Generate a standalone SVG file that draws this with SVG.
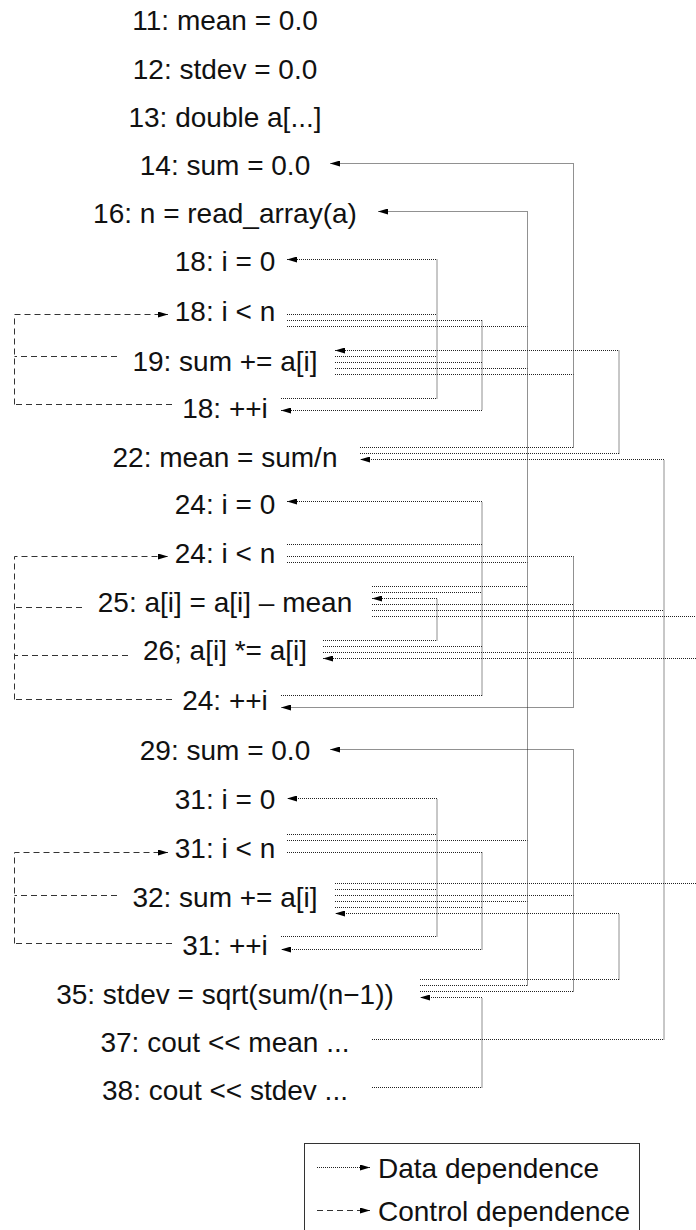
<svg xmlns="http://www.w3.org/2000/svg" width="696" height="1230" viewBox="0 0 696 1230">
  <style>
    .lbl { font-family: "Liberation Sans", Arial, Helvetica, sans-serif; font-size: 28px; fill: #111; text-anchor: middle; }
    .leg { font-family: "Liberation Sans", Arial, Helvetica, sans-serif; font-size: 28px; fill: #111; }
    .data { fill: none; stroke: #222; stroke-width: 1; stroke-dasharray: 1 1; }
    .ctrl { fill: none; stroke: #333; stroke-width: 1; stroke-dasharray: 6 4; }
  </style>
  <defs>
    <marker id="arrow" viewBox="0 0 10 6" refX="10" refY="3" markerWidth="10" markerHeight="6" markerUnits="userSpaceOnUse" orient="auto">
      <path d="M0,0 L10,3 L0,6 z" fill="#000"/>
    </marker>
  </defs>
  <rect width="696" height="1230" fill="#fff"/>

  <!-- statement nodes -->
  <g id="n11"><text class="lbl" x="225" y="30">11: mean = 0.0</text></g>
  <g id="n12"><text class="lbl" x="225" y="79">12: stdev = 0.0</text></g>
  <g id="n13"><text class="lbl" x="225" y="127">13: double a[...]</text></g>
  <g id="n14"><text class="lbl" x="225" y="175">14: sum = 0.0</text></g>
  <g id="n16"><text class="lbl" x="225" y="223">16: n = read_array(a)</text></g>
  <g id="n18a"><text class="lbl" x="225" y="271">18: i = 0</text></g>
  <g id="n18b"><text class="lbl" x="225" y="321">18: i &lt; n</text></g>
  <g id="n19"><text class="lbl" x="225" y="371">19: sum += a[i]</text></g>
  <g id="n18c"><text class="lbl" x="225" y="418">18: ++i</text></g>
  <g id="n22"><text class="lbl" x="225" y="467">22: mean = sum/n</text></g>
  <g id="n24a"><text class="lbl" x="225" y="514">24: i = 0</text></g>
  <g id="n24b"><text class="lbl" x="225" y="563">24: i &lt; n</text></g>
  <g id="n25"><text class="lbl" x="225" y="612">25: a[i] = a[i] – mean</text></g>
  <g id="n26"><text class="lbl" x="225" y="660">26; a[i] *= a[i]</text></g>
  <g id="n24c"><text class="lbl" x="225" y="710">24: ++i</text></g>
  <g id="n29"><text class="lbl" x="225" y="760">29: sum = 0.0</text></g>
  <g id="n31a"><text class="lbl" x="225" y="809">31: i = 0</text></g>
  <g id="n31b"><text class="lbl" x="225" y="858">31: i &lt; n</text></g>
  <g id="n32"><text class="lbl" x="225" y="907">32: sum += a[i]</text></g>
  <g id="n31c"><text class="lbl" x="225" y="955">31: ++i</text></g>
  <g id="n35"><text class="lbl" x="225" y="1004">35: stdev = sqrt(sum/(n−1))</text></g>
  <g id="n37"><text class="lbl" x="225" y="1052">37: cout &lt;&lt; mean ...</text></g>
  <g id="n38"><text class="lbl" x="225" y="1100">38: cout &lt;&lt; stdev ...</text></g>

  <!-- dependence edges: one trunk per target (with arrowhead), stubs from each source port -->
  <g id="connectors">
    <!-- into 14 -->
    <path class="data" d="M573.5,447.5 V163.5 H330" marker-end="url(#arrow)"/>
    <path class="data" d="M335,374.5 H573.5"/>
    <path class="data" d="M360,447.5 H573.5"/>
    <!-- into 16 -->
    <path class="data" d="M527.5,985.5 V211.5 H378" marker-end="url(#arrow)"/>
    <path class="data" d="M287,326.5 H527.5"/>
    <path class="data" d="M335,368.5 H527.5"/>
    <path class="data" d="M287,562.5 H527.5"/>
    <path class="data" d="M372,586.5 H527.5"/>
    <path class="data" d="M287,840.5 H527.5"/>
    <path class="data" d="M335,901.5 H527.5"/>
    <path class="data" d="M420,985.5 H527.5"/>
    <!-- into 18: i = 0 -->
    <path class="data" d="M437,398.5 V259.5 H287" marker-end="url(#arrow)"/>
    <path class="data" d="M287,314.5 H437"/>
    <path class="data" d="M335,356.5 H437"/>
    <path class="data" d="M281,398.5 H437"/>
    <!-- into 18: ++i -->
    <path class="data" d="M482,320.5 V410.5 H281" marker-end="url(#arrow)"/>
    <path class="data" d="M287,320.5 H482"/>
    <path class="data" d="M335,362.5 H482"/>
    <!-- into 19 -->
    <path class="data" d="M619,453.5 V350.5 H335" marker-end="url(#arrow)"/>
    <path class="data" d="M360,453.5 H619"/>
    <!-- into 22 -->
    <path class="data" d="M664,1039.5 V459.5 H360" marker-end="url(#arrow)"/>
    <path class="data" d="M372,610.5 H664"/>
    <path class="data" d="M372,1039.5 H664"/>
    <!-- into 24: i = 0 -->
    <path class="data" d="M482,695.5 V501.5 H287" marker-end="url(#arrow)"/>
    <path class="data" d="M287,544.5 H482"/>
    <path class="data" d="M372,592.5 H482"/>
    <path class="data" d="M323,646.5 H482"/>
    <path class="data" d="M281,695.5 H482"/>
    <!-- into 24: ++i -->
    <path class="data" d="M573.5,556.5 V707.5 H281" marker-end="url(#arrow)"/>
    <path class="data" d="M287,556.5 H573.5"/>
    <path class="data" d="M372,604.5 H573.5"/>
    <path class="data" d="M323,652.5 H573.5"/>
    <!-- into 25 -->
    <path class="data" d="M437,640.5 V598.5 H372" marker-end="url(#arrow)"/>
    <path class="data" d="M323,640.5 H437"/>
    <!-- routed past the right margin -->
    <path class="data" d="M696,658.5 H323" marker-end="url(#arrow)"/>
    <path class="data" d="M372,616.5 H696"/>
    <path class="data" d="M335,883.5 H696"/>
    <!-- into 29 -->
    <path class="data" d="M573.5,991.5 V749.5 H330" marker-end="url(#arrow)"/>
    <path class="data" d="M335,895.5 H573.5"/>
    <path class="data" d="M420,991.5 H573.5"/>
    <!-- into 31: i = 0 -->
    <path class="data" d="M437,936.5 V798.5 H287" marker-end="url(#arrow)"/>
    <path class="data" d="M287,834.5 H437"/>
    <path class="data" d="M335,889.5 H437"/>
    <path class="data" d="M281,936.5 H437"/>
    <!-- into 31: ++i -->
    <path class="data" d="M482,852.5 V949.5 H281" marker-end="url(#arrow)"/>
    <path class="data" d="M287,852.5 H482"/>
    <path class="data" d="M335,907.5 H482"/>
    <!-- into 32 -->
    <path class="data" d="M619,979.5 V913.5 H335" marker-end="url(#arrow)"/>
    <path class="data" d="M420,979.5 H619"/>
    <!-- into 35 -->
    <path class="data" d="M482,1087.5 V997.5 H420" marker-end="url(#arrow)"/>
    <path class="data" d="M372,1087.5 H482"/>

    <!-- control dependences of the three loops -->
    <path class="ctrl" d="M14.5,404.5 V314.5 H168" marker-end="url(#arrow)"/>
    <path class="ctrl" d="M117,356.5 H14.5"/>
    <path class="ctrl" d="M172,404.5 H14.5"/>

    <path class="ctrl" d="M14.5,699.5 V556.5 H168" marker-end="url(#arrow)"/>
    <path class="ctrl" d="M82,607.5 H14.5"/>
    <path class="ctrl" d="M128,655.5 H14.5"/>
    <path class="ctrl" d="M172,699.5 H14.5"/>

    <path class="ctrl" d="M14.5,943.5 V852.5 H168" marker-end="url(#arrow)"/>
    <path class="ctrl" d="M117,895.5 H14.5"/>
    <path class="ctrl" d="M172,943.5 H14.5"/>
  </g>

  <!-- legend -->
  <g id="legend">
    <rect x="304.5" y="1143.5" width="335" height="100" fill="#fff" stroke="#333" stroke-width="1"/>
    <path class="data" d="M317,1167.5 H370" marker-end="url(#arrow)"/>
    <text class="leg" x="378" y="1178">Data dependence</text>
    <path class="ctrl" d="M317,1210.5 H370" marker-end="url(#arrow)"/>
    <text class="leg" x="378" y="1221">Control dependence</text>
  </g>
</svg>
